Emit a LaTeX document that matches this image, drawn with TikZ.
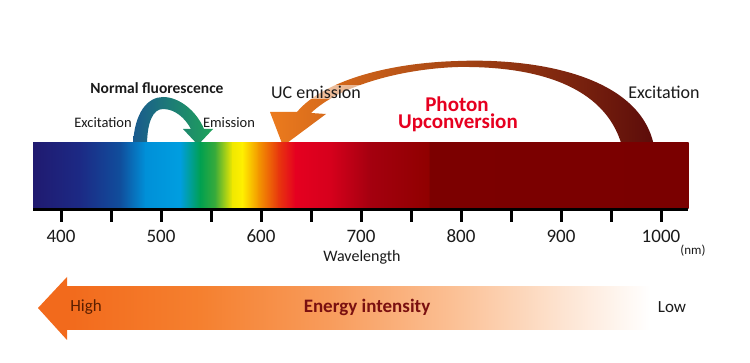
\documentclass[tikz,border=0pt]{standalone}
\usepackage{fontspec}
\setmainfont{Carlito}
\definecolor{txt}{HTML}{1A1A1A}
\definecolor{sp1}{HTML}{201A70}
\definecolor{sp2}{HTML}{1C2A85}
\definecolor{sp3}{HTML}{104E9C}
\definecolor{sp4}{HTML}{0090D8}
\definecolor{sp5}{HTML}{009EE0}
\definecolor{sp6}{HTML}{00A050}
\definecolor{sp7}{HTML}{3AAB3A}
\definecolor{sp8}{HTML}{F0E800}
\definecolor{sp9}{HTML}{FFF000}
\definecolor{sp10}{HTML}{F39800}
\definecolor{sp11}{HTML}{E8380D}
\definecolor{sp12}{HTML}{E50020}
\definecolor{sp13}{HTML}{D6001C}
\definecolor{sp14}{HTML}{A4000F}
\definecolor{sp15}{HTML}{900000}
\definecolor{sp16}{HTML}{7C0000}
\definecolor{sp17}{HTML}{7A0000}
\definecolor{nfL}{HTML}{1A5A8E}
\definecolor{nfM}{HTML}{17787A}
\definecolor{nfR}{HTML}{1FA35A}
\definecolor{ucL}{HTML}{EC7B1E}
\definecolor{ucM}{HTML}{A0401A}
\definecolor{ucR}{HTML}{5C0C0A}
\definecolor{en1}{HTML}{F26A1C}
\definecolor{en2}{HTML}{F5802F}
\definecolor{en3}{HTML}{F89C5C}
\definecolor{en4}{HTML}{FBBF93}
\definecolor{en5}{HTML}{FDE3D0}
\definecolor{puRed}{HTML}{E60020}
\definecolor{enText}{HTML}{7A1010}
\definecolor{hiText}{HTML}{5A1E00}
\tikzset{
  lbl/.style={text=txt, inner sep=0pt, font=\fontsize{#1}{#1}\selectfont},
  ticklbl/.style={lbl=19},
  pulbl/.style={text=puRed, inner sep=0pt, anchor=base, font=\fontsize{21}{21}\selectfont\bfseries},
}
\begin{document}
\begin{tikzpicture}[x=1pt,y=-1pt]
\useasboundingbox (0,0) rectangle (750,363);
\fill[white] (0,0) rectangle (750,363);

% normal fluorescence arrow
\shade[left color=nfL, middle color=nfM, right color=nfR]
  (133,146) .. controls (134,112) and (148,97) .. (163,97)
  .. controls (180,97) and (197,112) .. (204,129)
  -- (213,129) -- (198,145) -- (183,129) -- (191,129)
  .. controls (185,118) and (175,109) .. (163,109)
  .. controls (153,109) and (147,122) .. (147,146) -- cycle;

% photon upconversion arrow
\shade[left color=ucL, middle color=ucM, right color=ucR]
  (654,146) .. controls (640,75) and (535,58) .. (458,61)
  .. controls (385,63) and (322,82) .. (297,112)
  -- (270,112) -- (283,146) -- (326,114) -- (311,113)
  .. controls (338,87) and (398,69) .. (458,67)
  .. controls (535,66) and (605,85) .. (622,146) -- cycle;

% spectrum
\foreach \a/\b/\ca/\cb in {33/80/sp1/sp2, 80/120/sp2/sp3, 120/145/sp3/sp4,
  145/180/sp4/sp5, 180/200/sp5/sp6, 200/215/sp6/sp7, 215/232/sp7/sp8,
  232/242/sp8/sp9, 242/258/sp9/sp10, 258/278/sp10/sp11, 278/295/sp11/sp12,
  295/330/sp12/sp13, 330/370/sp13/sp14, 370/428/sp14/sp15, 428/430/sp15/sp16,
  430/688/sp16/sp17}
  \shade[left color=\ca, right color=\cb] (\a,143) rectangle (\b+0.6,209);

% axis and ticks
\fill[black] (33,208.5) rectangle (688,211.5);
\foreach \x in {61,111,...,661}
  \fill[black] (\x-1.5,209) rectangle (\x+1.5,222);
\foreach \v [count=\i from 0] in {400,500,600,700,800,900,1000}
  \node[ticklbl] (t\v) at (61+100*\i,236) {\v};
\node[lbl=16] (wl) at (362,257) {Wavelength};
\node[lbl=13] (nm) at (693,251) {(nm)};

% labels above
\node[lbl=15.5, font=\fontsize{15.5}{15.5}\selectfont\bfseries] (nf) at (157,88) {Normal fluorescence};
\node[lbl=14.5] (exl) at (103,123) {Excitation};
\node[lbl=14.5] (em) at (229,123) {Emission};
\node[lbl=18, fill=white, fill opacity=0.55, text opacity=1, inner sep=1pt] (uc) at (316,92) {UC emission};
\node[lbl=18] (exr) at (664,92) {Excitation};
\node[pulbl] (pu1) at (457,112) {Photon};
\node[pulbl] (pu2) at (458,128.5) {Upconversion};

% energy arrow
\fill[en1] (38,308) -- (67,277) -- (67,340) -- cycle;
\foreach \a/\b/\ca/\cb in {66/200/en1/en2, 200/330/en2/en3, 330/450/en3/en4,
  450/560/en4/en5, 560/650/en5/white}
  \shade[left color=\ca, right color=\cb] (\a,287) rectangle (\b+0.6,330);
\node[lbl=17, text=hiText] (hi) at (86,307) {High};
\node[lbl=19, text=enText, font=\fontsize{19}{19}\selectfont\bfseries] (ei) at (367,307) {Energy intensity};
\node[lbl=17] (lo) at (672,307) {Low};
\end{tikzpicture}
\end{document}
